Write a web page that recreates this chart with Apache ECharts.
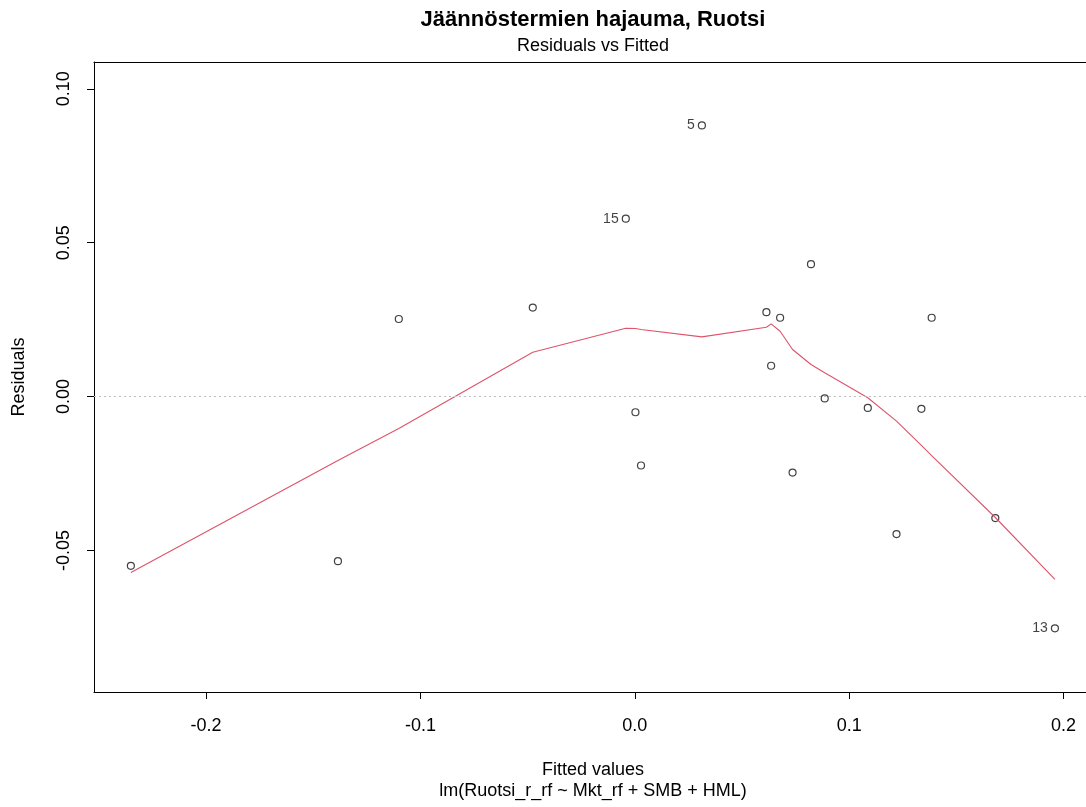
<!DOCTYPE html>
<html>
<head>
<meta charset="utf-8">
<script src="https://cdn.jsdelivr.net/npm/echarts@6/dist/echarts.min.js"></script>
<style>
html,body{margin:0;padding:0;background:#fff;}
#chart{width:1086px;height:807px;}
</style>
</head>
<body>
<div id="chart"></div>
<script>
// Observations: fitted values and residuals
var fittedValues = [-0.2351, -0.1385, -0.1101, -0.0476, -0.0042, 0.0313, 0.0003, 0.0029, 0.0614, 0.0678, 0.0636, 0.0736, 0.0886, 0.0822, 0.1087, 0.1221, 0.1337, 0.1385, 0.1682, 0.1960];
var residualValues = [-0.0550, -0.0535, 0.0252, 0.0289, 0.0578, 0.0881, -0.0051, -0.0224, 0.0274, 0.0256, 0.0100, -0.0247, -0.0006, 0.0430, -0.0037, -0.0447, -0.0040, 0.0256, -0.0395, -0.0753];
var pointLabels = ['', '', '', '', '15', '5', '', '', '', '', '', '', '', '', '', '', '', '', '', '13'];

// Lowess smoother (evaluated at sorted fitted values)
var smoothX = [-0.2351, -0.1385, -0.1101, -0.0476, -0.0042, 0.0003, 0.0029, 0.0313, 0.0614, 0.0636, 0.0678, 0.0736, 0.0822, 0.0886, 0.1087, 0.1221, 0.1337, 0.1385, 0.1682, 0.1960];
var smoothY = [-0.0572, -0.0208, -0.0104, 0.0144, 0.0222, 0.0221, 0.0218, 0.0194, 0.0225, 0.0236, 0.0212, 0.0153, 0.0104, 0.0077, -0.0004, -0.0080, -0.0159, -0.0192, -0.0393, -0.0594];

// Axis ticks
var xTicks = [-0.2, -0.1, 0.0, 0.1, 0.2];
var yTicks = [-0.05, 0.00, 0.05, 0.10];

var mainTitle = 'Jäännöstermien hajauma, Ruotsi';
var subTitle = 'Residuals vs Fitted';
var xLabel1 = 'Fitted values';
var xLabel2 = 'lm(Ruotsi_r_rf ~ Mkt_rf + SMB + HML)';
var yLabel = 'Residuals';

var FONT = '"Liberation Sans", Arial, sans-serif';

var scatterData = fittedValues.map(function (x, i) {
  return { value: [x, residualValues[i]], name: pointLabels[i] };
});
var smoothData = smoothX.map(function (x, i) { return [x, smoothY[i]]; });

var chart = echarts.init(document.getElementById('chart'), null, { renderer: 'canvas' });
chart.setOption({
  animation: false,
  backgroundColor: '#ffffff',
  title: [
    { text: mainTitle, left: 593, top: 9, textAlign: 'center', padding: 0,
      textStyle: { fontFamily: FONT, fontSize: 22, fontWeight: 'bold', color: '#000' } },
    { text: subTitle, left: 593, top: 37, textAlign: 'center', padding: 0,
      textStyle: { fontFamily: FONT, fontSize: 18, fontWeight: 'normal', color: '#000' } },
    { text: xLabel1, left: 593, top: 761, textAlign: 'center', padding: 0,
      textStyle: { fontFamily: FONT, fontSize: 18, fontWeight: 'normal', color: '#000' } },
    { text: xLabel2, left: 593, top: 782, textAlign: 'center', padding: 0,
      textStyle: { fontFamily: FONT, fontSize: 18, fontWeight: 'normal', color: '#000' } }
  ],
  grid: {
    left: 94, top: 62, right: 0, bottom: 115,
    show: false, containLabel: false
  },
  xAxis: [
    {
      type: 'value', min: -0.2523, max: 0.2105, position: 'bottom',
      axisLine: { show: true, onZero: false, lineStyle: { color: '#000', width: 1 } },
      splitLine: { show: false },
      axisTick: { show: true, length: 7, lineStyle: { color: '#000', width: 1 }, customValues: xTicks },
      axisLabel: { customValues: xTicks, margin: 25, fontFamily: FONT, fontSize: 18, color: '#000',
        formatter: function (v) { return v.toFixed(1); } }
    },
    {
      type: 'value', min: -0.2523, max: 0.2105, position: 'top',
      axisLine: { show: true, onZero: false, lineStyle: { color: '#000', width: 1 } },
      splitLine: { show: false }, axisTick: { show: false }, axisLabel: { show: false }
    }
  ],
  yAxis: {
    type: 'value', min: -0.0960, max: 0.1087,
    name: yLabel, nameLocation: 'middle', nameGap: 66, nameRotate: 90,
    nameTextStyle: { fontFamily: FONT, fontSize: 18, color: '#000' },
    axisLine: { show: true, onZero: false, lineStyle: { color: '#000', width: 1 } },
    splitLine: { show: false },
    axisTick: { show: true, length: 7, lineStyle: { color: '#000', width: 1 }, customValues: yTicks },
    axisLabel: { customValues: yTicks, rotate: 90, margin: 21, fontFamily: FONT, fontSize: 18, color: '#000',
      formatter: function (v) { return v.toFixed(2); } }
  },
  series: [
    {
      type: 'scatter',
      data: scatterData,
      symbol: 'circle',
      symbolSize: 7,
      itemStyle: { color: 'rgba(0,0,0,0)', borderColor: '#111', borderWidth: 1.2 },
      label: {
        show: true, position: 'left', distance: 3,
        fontFamily: FONT, fontSize: 14, color: '#111',
        formatter: function (p) { return p.name || ''; }
      },
      emphasis: { disabled: true },
      markLine: {
        silent: true, symbol: 'none', animation: false,
        label: { show: false },
        lineStyle: { color: '#bebebe', type: [2, 3], width: 1.2 },
        data: [{ yAxis: 0 }]
      },
      z: 3
    },
    {
      type: 'line',
      data: smoothData,
      showSymbol: false,
      symbol: 'none',
      lineStyle: { color: '#DF536B', width: 1.1 },
      emphasis: { disabled: true },
      z: 4
    }
  ]
});
</script>
</body>
</html>
